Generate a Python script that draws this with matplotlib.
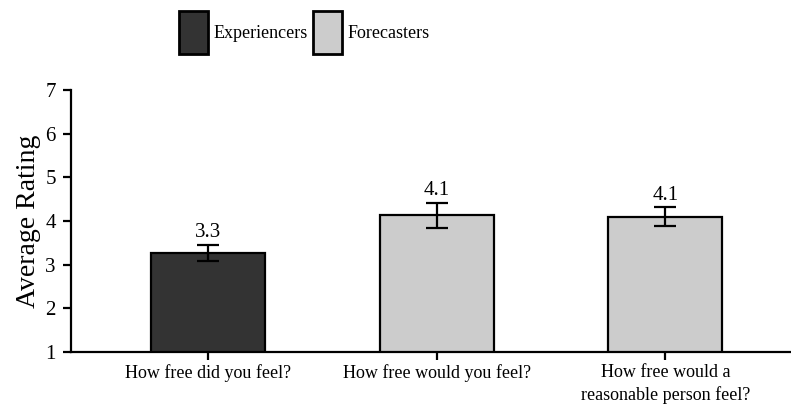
import numpy as np
import matplotlib.pyplot as plt
from matplotlib.patches import Patch

categories = ["How free did you feel?", "How free would you feel?",
              "How free would a\nreasonable person feel?"]
ratings = [3.27, 4.13, 4.10]
errors = [0.19, 0.29, 0.21]
value_labels = ["3.3", "4.1", "4.1"]
groups = ["Experiencers", "Forecasters", "Forecasters"]
group_colors = {"Experiencers": "#333333", "Forecasters": "#cccccc"}

plt.rcParams['font.family'] = ['Liberation Serif', 'DejaVu Serif']

fig = plt.figure(figsize=(7.91, 4.11), dpi=100)
ax = fig.add_axes([71 / 791, 59 / 411, 720 / 791, 262 / 411])

x = np.arange(len(categories))
colors = [group_colors[g] for g in groups]
ax.bar(x, ratings, width=0.5, bottom=0, color=colors, edgecolor='black',
       linewidth=1.6, zorder=2)
ax.errorbar(x, ratings, yerr=errors, fmt='none', ecolor='black',
            elinewidth=1.6, capsize=8, capthick=1.6, zorder=3)

for xi, r, e, lab in zip(x, ratings, errors, value_labels):
    ax.text(xi, r + e + 0.06, lab, ha='center', va='bottom', fontsize=15)

ax.set_ylim(1, 7)
ax.set_xlim(-0.6, 2.55)
ax.set_yticks(range(1, 8))
ax.set_xticks(x)
ax.set_xticklabels(categories, fontsize=13, linespacing=1.4)
ax.tick_params(axis='y', labelsize=15, width=1.6, length=6, pad=5)
ax.tick_params(axis='x', width=1.6, length=5.5, pad=3)
ax.set_ylabel("Average Rating", fontsize=20, labelpad=3)

for side in ['top', 'right']:
    ax.spines[side].set_visible(False)
for side in ['left', 'bottom']:
    ax.spines[side].set_linewidth(1.6)

handles = [Patch(facecolor=group_colors[g], edgecolor='black', linewidth=2, label=g)
           for g in ["Experiencers", "Forecasters"]]
fig.legend(handles=handles, loc='upper center', bbox_to_anchor=(0.385, 1.013),
           ncol=2, frameon=False, fontsize=13, handlelength=1.6,
           handleheight=3.3, handletextpad=0.3, columnspacing=0.3)

fig.savefig("out.png", dpi=100)
